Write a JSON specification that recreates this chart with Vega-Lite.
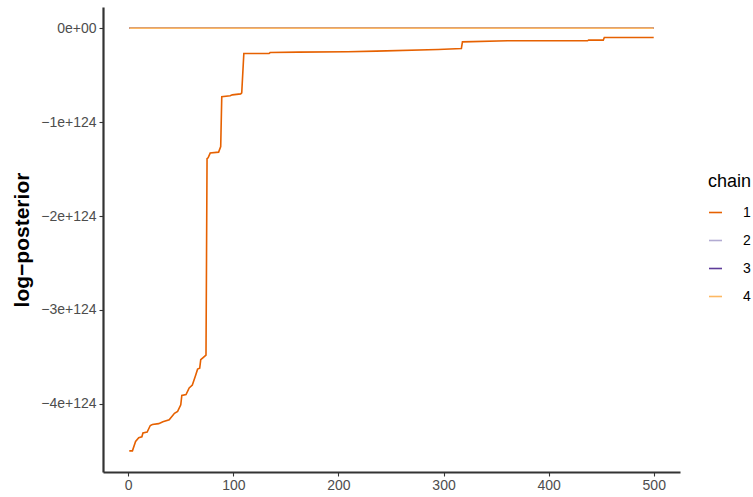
{
  "$schema": "https://vega.github.io/schema/vega-lite/v6.json",
  "autosize": "none",
  "width": 577,
  "height": 465,
  "padding": {"left": 103, "top": 7, "right": 73, "bottom": 25},
  "background": "white",
  "config": {
    "view": {"stroke": null},
    "font": "Liberation Sans"
  },
  "data": {
    "values": [
      {"chain": "2", "iter": 1, "lp": 0},
      {"chain": "2", "iter": 500, "lp": 0},
      {"chain": "3", "iter": 1, "lp": 0},
      {"chain": "3", "iter": 500, "lp": 0},
      {"chain": "4", "iter": 1, "lp": 0},
      {"chain": "4", "iter": 500, "lp": 0},
      {"chain": "1", "iter": 1, "lp": -4.50e124},
      {"chain": "1", "iter": 4, "lp": -4.50e124},
      {"chain": "1", "iter": 7, "lp": -4.40e124},
      {"chain": "1", "iter": 10, "lp": -4.36e124},
      {"chain": "1", "iter": 13, "lp": -4.35e124},
      {"chain": "1", "iter": 14, "lp": -4.31e124},
      {"chain": "1", "iter": 18, "lp": -4.30e124},
      {"chain": "1", "iter": 21, "lp": -4.23e124},
      {"chain": "1", "iter": 23, "lp": -4.22e124},
      {"chain": "1", "iter": 29, "lp": -4.21e124},
      {"chain": "1", "iter": 33, "lp": -4.19e124},
      {"chain": "1", "iter": 39, "lp": -4.17e124},
      {"chain": "1", "iter": 44, "lp": -4.10e124},
      {"chain": "1", "iter": 47, "lp": -4.08e124},
      {"chain": "1", "iter": 50, "lp": -4.01e124},
      {"chain": "1", "iter": 51, "lp": -3.91e124},
      {"chain": "1", "iter": 55, "lp": -3.90e124},
      {"chain": "1", "iter": 58, "lp": -3.83e124},
      {"chain": "1", "iter": 61, "lp": -3.80e124},
      {"chain": "1", "iter": 64, "lp": -3.70e124},
      {"chain": "1", "iter": 66, "lp": -3.63e124},
      {"chain": "1", "iter": 68, "lp": -3.62e124},
      {"chain": "1", "iter": 69, "lp": -3.53e124},
      {"chain": "1", "iter": 71, "lp": -3.51e124},
      {"chain": "1", "iter": 74, "lp": -3.48e124},
      {"chain": "1", "iter": 75, "lp": -1.39e124},
      {"chain": "1", "iter": 76, "lp": -1.38e124},
      {"chain": "1", "iter": 78, "lp": -1.33e124},
      {"chain": "1", "iter": 86, "lp": -1.32e124},
      {"chain": "1", "iter": 88, "lp": -1.26e124},
      {"chain": "1", "iter": 89, "lp": -0.73e124},
      {"chain": "1", "iter": 97, "lp": -0.72e124},
      {"chain": "1", "iter": 99, "lp": -0.71e124},
      {"chain": "1", "iter": 107, "lp": -0.70e124},
      {"chain": "1", "iter": 108, "lp": -0.69e124},
      {"chain": "1", "iter": 110, "lp": -0.27e124},
      {"chain": "1", "iter": 134, "lp": -0.27e124},
      {"chain": "1", "iter": 135, "lp": -0.26e124},
      {"chain": "1", "iter": 162, "lp": -0.255e124},
      {"chain": "1", "iter": 209, "lp": -0.252e124},
      {"chain": "1", "iter": 236, "lp": -0.245e124},
      {"chain": "1", "iter": 295, "lp": -0.227e124},
      {"chain": "1", "iter": 317, "lp": -0.216e124},
      {"chain": "1", "iter": 318, "lp": -0.146e124},
      {"chain": "1", "iter": 361, "lp": -0.135e124},
      {"chain": "1", "iter": 437, "lp": -0.135e124},
      {"chain": "1", "iter": 438, "lp": -0.128e124},
      {"chain": "1", "iter": 452, "lp": -0.128e124},
      {"chain": "1", "iter": 453, "lp": -0.10e124},
      {"chain": "1", "iter": 500, "lp": -0.10e124}
    ]
  },
  "mark": {"type": "line", "strokeWidth": 1.6},
  "encoding": {
    "x": {
      "field": "iter",
      "type": "quantitative",
      "scale": {"domain": [-24, 525], "nice": false, "zero": false},
      "axis": {
        "title": null,
        "values": [0, 100, 200, 300, 400, 500],
        "grid": false,
        "domainColor": "#333333",
        "domainWidth": 2.2,
        "tickColor": "#333333",
        "tickWidth": 1.1,
        "tickSize": 4,
        "labelColor": "#4D4D4D",
        "labelFontSize": 14,
        "labelPadding": 2
      }
    },
    "y": {
      "field": "lp",
      "type": "quantitative",
      "scale": {"domain": [-4.725e124, 0.225e124], "nice": false, "zero": false},
      "axis": {
        "title": "log−posterior",
        "titleFontSize": 21,
        "titleFontWeight": "bold",
        "titleColor": "black",
        "titlePadding": 8,
        "values": [0, -1e124, -2e124, -3e124, -4e124],
        "labelExpr": "datum.value == 0 ? '0e+00' : format(datum.value, '.0e')",
        "grid": false,
        "domainColor": "#333333",
        "domainWidth": 2.2,
        "tickColor": "#333333",
        "tickWidth": 1.1,
        "tickSize": 4,
        "labelColor": "#4D4D4D",
        "labelFontSize": 14,
        "labelPadding": 3
      }
    },
    "color": {
      "field": "chain",
      "type": "nominal",
      "scale": {"domain": ["1", "2", "3", "4"], "range": ["#E66101", "#B2ABD2", "#5E3C99", "#FDB863"]},
      "legend": {
        "title": "chain",
        "orient": "none",
        "legendX": 605,
        "legendY": 166,
        "titleFontSize": 18,
        "titleFontWeight": "normal",
        "titleColor": "black",
        "titlePadding": 14,
        "labelFontSize": 14,
        "labelColor": "black",
        "labelOffset": 20,
        "symbolType": "stroke",
        "symbolSize": 169,
        "symbolStrokeWidth": 1.6,
        "rowPadding": 13
      }
    },
    "opacity": {
      "field": "chain",
      "type": "nominal",
      "scale": {"domain": ["1", "2", "3", "4"], "range": [1, 1, 1, 0.8]},
      "legend": null
    },
    "order": {"field": "chain", "type": "nominal"}
  }
}
